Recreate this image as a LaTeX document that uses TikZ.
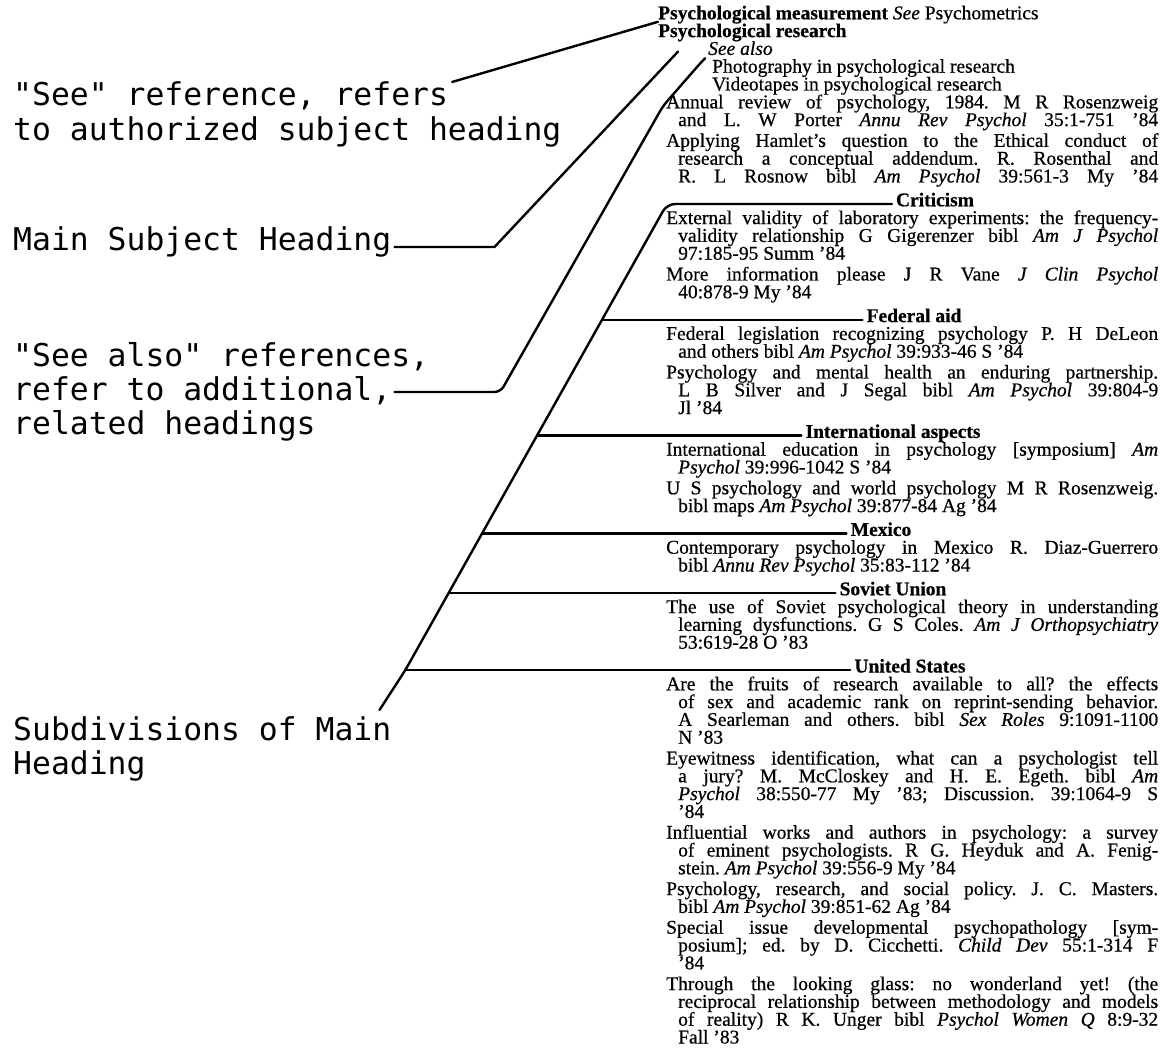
\documentclass[tikz,border=0pt]{standalone}
\usepackage{fontspec}
\setmainfont{Liberation Serif}[FakeBold=0.6]
\newfontfamily\labelfont{DejaVu Sans Mono}

\newlength\colw
\setlength\colw{492pt}
\newcommand\rowfont{\fontsize{19.5}{20}\selectfont\frenchspacing}

\tikzset{
  lbl/.style={anchor=base west, inner sep=0pt, font=\labelfont\fontsize{31.4}{33}\selectfont},
  row/.style={anchor=mid west, inner sep=0pt, font=\rowfont},
  subhd/.style={anchor=mid, inner sep=0pt, font=\rowfont\bfseries},
  conn/.style={line width=2.4pt, line cap=round, line join=round},
}

\begin{document}
\begin{tikzpicture}[x=1pt,y=-1pt]
\useasboundingbox (0,0) rectangle (1162,1049);

% labels on the left
\foreach \n/\y/\txt in {seeA/106/{"See" reference, refers},
    seeB/140/{to authorized subject heading}, main/250/{Main Subject Heading},
    alsoA/366/{"See also" references,}, alsoB/400/{refer to additional,},
    alsoC/434/{related headings}, subA/740/{Subdivisions of Main}, subB/774/{Heading}}
  \node[lbl] (\n) at (13,\y) {\txt};

% headings of the index column
\node[row] (psymeas) at (658,17) {\textbf{Psychological measurement} \textit{See} Psychometrics};
\node[row] (psyres) at (658,34.8) {\textbf{Psychological research}};
\node[row] (seealso) at (708,52.6) {\textit{See also}};
\node[row] (photo) at (712,70.4) {Photography in psychological research};
\node[row] (video) at (712,88.2) {Videotapes in psychological research};

\foreach \n/\x/\y/\txt in {crit/935/204/Criticism, fedaid/914/319.8/Federal aid,
    intl/893/435.6/International aspects, mexico/881/533.6/Mexico,
    soviet/893/593/Soviet Union, usa/910/670.2/United States}
  \node[subhd] (\n) at (\x,\y) {\txt};

% justified lines
\foreach \n/\y/\h/\txt in {
    6/106.0/0/{Annual review of psychology, 1984. M R Rosenzweig},
    7/123.8/12/{and L. W Porter \textit{Annu Rev Psychol} 35:1-751 '84},
    8/144.6/0/{Applying Hamlet's question to the Ethical conduct of},
    9/162.4/12/{research a conceptual addendum. R. Rosenthal and},
    10/180.2/12/{R. L Rosnow bibl \textit{Am Psychol} 39:561-3 My '84},
    12/221.8/0/{External validity of laboratory experiments: the frequency-},
    13/239.6/12/{validity relationship G Gigerenzer bibl \textit{Am J Psychol}},
    15/278.2/0/{More information please J R Vane \textit{J Clin Psychol}},
    18/337.6/0/{Federal legislation recognizing psychology P. H DeLeon},
    20/376.2/0/{Psychology and mental health an enduring partnership.},
    21/394.0/12/{L B Silver and J Segal bibl \textit{Am Psychol} 39:804-9},
    24/453.4/0/{International education in psychology [symposium] \textit{Am}},
    26/492.0/0/{U S psychology and world psychology M R Rosenzweig.},
    29/551.4/0/{Contemporary psychology in Mexico R. Diaz-Guerrero},
    32/610.8/0/{The use of Soviet psychological theory in understanding},
    33/628.6/12/{learning dysfunctions. G S Coles. \textit{Am J Orthopsychiatry}},
    36/688.0/0/{Are the fruits of research available to all? the effects},
    37/705.8/12/{of sex and academic rank on reprint-sending behavior.},
    38/723.6/12/{A Searleman and others. bibl \textit{Sex Roles} 9:1091-1100},
    40/762.2/0/{Eyewitness identification, what can a psychologist tell},
    41/780.0/12/{a jury? M. McCloskey and H. E. Egeth. bibl \textit{Am}},
    42/797.8/12/{\textit{Psychol} 38:550-77 My '83; Discussion. 39:1064-9 S},
    44/836.4/0/{Influential works and authors in psychology: a survey},
    45/854.2/12/{of eminent psychologists. R G. Heyduk and A. Fenig-},
    47/892.8/0/{Psychology, research, and social policy. J. C. Masters.},
    49/931.4/0/{Special issue developmental psychopathology [sym-},
    50/949.2/12/{posium]; ed. by D. Cicchetti. \textit{Child Dev} 55:1-314 F},
    52/987.8/0/{Through the looking glass: no wonderland yet! (the},
    53/1005.6/12/{reciprocal relationship between methodology and models},
    54/1023.4/12/{of reality) R K. Unger bibl \textit{Psychol Women Q} 8:9-32}}
  \node[row] (r\n) at (666+\h,\y) {\makebox[\dimexpr\colw-\h pt\relax][s]{\txt}};

% last lines of the entries
\foreach \n/\y/\txt in {14/257.4/{97:185-95 Summ '84}, 16/296.0/{40:878-9 My '84},
    19/355.4/{and others bibl \textit{Am Psychol} 39:933-46 S '84}, 22/411.8/{Jl '84},
    25/471.2/{\textit{Psychol} 39:996-1042 S '84},
    27/509.8/{bibl maps \textit{Am Psychol} 39:877-84 Ag '84},
    30/569.2/{bibl \textit{Annu Rev Psychol} 35:83-112 '84}, 34/646.4/{53:619-28 O '83},
    39/741.4/{N '83}, 43/815.6/{'84}, 46/872.0/{stein. \textit{Am Psychol} 39:556-9 My '84},
    48/910.6/{bibl \textit{Am Psychol} 39:851-62 Ag '84}, 51/967.0/{'84}, 55/1041.2/{Fall '83}}
  \node[row] (r\n) at (678,\y) {\txt};

% pointer lines
\draw[conn] ([xshift=4pt]seeA.north east) -- ([yshift=2pt]psymeas.south west);
\draw[conn] ([xshift=3pt,yshift=3pt]main.base east) -- ++(100,0)
    -- ([xshift=20pt,yshift=-10pt]psyres.south west);
\draw[conn,rounded corners=6pt] ([xshift=3pt,yshift=8pt]alsoB.base east) -- ++(106,0)
    -- ([xshift=-3pt]r6.mid west) -- ([xshift=-11pt,yshift=8pt]photo.mid west)
    -- ([xshift=-7pt,yshift=12pt]photo.mid west);

% subdivisions
\coordinate (bcrit) at (667,0 |- crit.mid west);
\foreach \n/\x in {fedaid/602, intl/537, mexico/482, soviet/448.6, usa/405.3}
  \coordinate (b\n) at (\x,0 |- \n.mid west);
\draw[conn,rounded corners=8pt] ([xshift=-12pt,yshift=6pt]subA.north east) -- (busa)
    -- (bcrit) -- ([xshift=-4pt]crit.mid west);
\foreach \n in {fedaid, intl, mexico, soviet, usa}
  \draw[conn] (b\n) -- ([xshift=-4pt]\n.mid west);
\end{tikzpicture}
\end{document}
